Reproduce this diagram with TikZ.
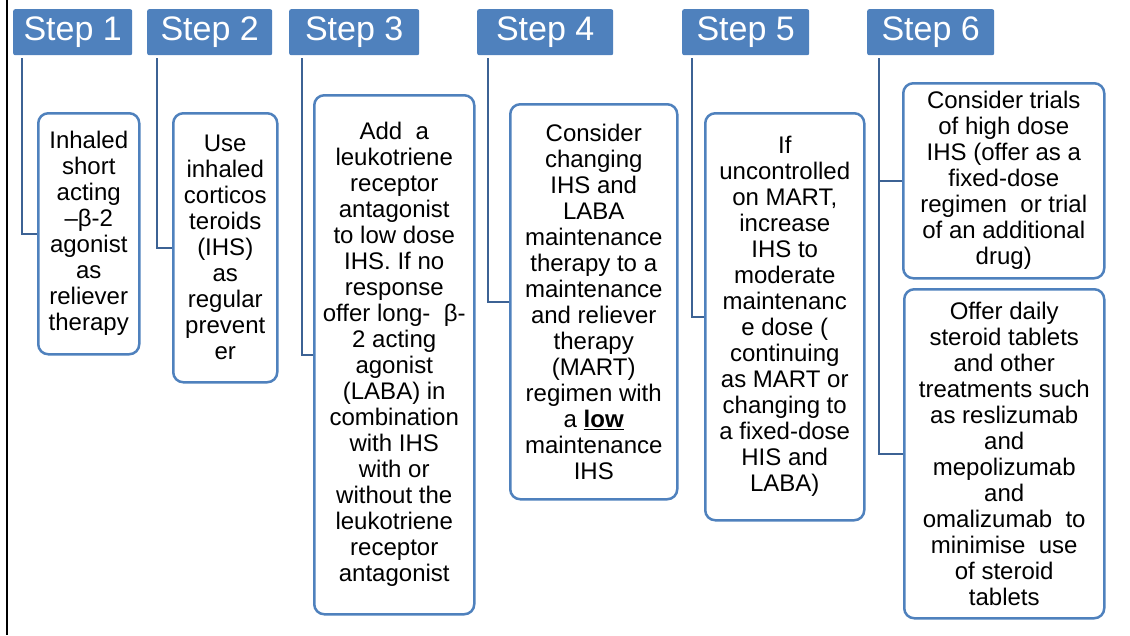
\documentclass[tikz,border=0pt]{standalone}
\usepackage{fontspec}
\setmainfont{Liberation Sans}

\definecolor{stepblue}{RGB}{79,129,189}
\definecolor{linkblue}{RGB}{60,98,148}

\tikzset{
	stephead/.style={anchor=north west,fill=stepblue,rounded corners=2pt,text=white,font=\fontsize{34}{40}\selectfont,inner sep=0pt},
	stepbox/.style={anchor=north west,draw=stepblue,line width=2.5pt,rounded corners=10pt,align=center,font=\fontsize{24}{26}\selectfont,inner sep=0pt},
	stepline/.style={draw=linkblue,line width=2.5pt},
}

\begin{document}
\begin{tikzpicture}[x=1pt,y=-1pt]
					\useasboundingbox (0,0) rectangle (1130,635);
					\draw[line width=2.5pt] (7,0) -- (7,635);

					\def\headtop{9}
					\foreach \i/\x/\w in {1/13/119,2/147/125,3/289/130,4/477/136,5/682/127,6/867/127}
					{
						\node[stephead,minimum width=\w pt,minimum height=46pt] (h\i) at (\x,\headtop) {Step \i};
					}

					\node[stepbox,minimum width=101pt,minimum height=241pt] (b1) at (37,112)
						{Inhaled\\short\\acting\\–β-2\\agonist\\as\\reliever\\therapy};
					\node[stepbox,minimum width=104pt,minimum height=269pt] (b2) at (172,112)
						{Use\\inhaled\\corticos\\teroids\\(IHS)\\as\\regular\\prevent\\er};
					\node[stepbox,minimum width=160pt,minimum height=519pt] (b3) at (313,94)
						{Add\ \ a\\leukotriene\\receptor\\antagonist\\to low dose\\IHS. If no\\response\\offer long-\ \ β-\\2 acting\\agonist\\(LABA) in\\combination\\with IHS\\with or\\without the\\leukotriene\\receptor\\antagonist};
					\node[stepbox,minimum width=167pt,minimum height=395pt] (b4) at (509,103)
						{Consider\\changing\\IHS and\\LABA\\maintenance\\therapy to a\\maintenance\\and reliever\\therapy\\(MART)\\regimen with\\a \underline{\textbf{low}}\\maintenance\\IHS};
					\node[stepbox,minimum width=159pt,minimum height=407pt] (b5) at (704,112)
						{If\\uncontrolled\\on MART,\\increase\\IHS to\\moderate\\maintenanc\\e dose (\\continuing\\as MART or\\changing to\\a fixed-dose\\HIS and\\LABA)};
					\node[stepbox,minimum width=201pt,minimum height=195pt] (b6a) at (902,82)
						{Consider trials\\of high dose\\IHS (offer as a\\fixed-dose\\regimen\ \ or trial\\of an additional\\drug)};
					\node[stepbox,minimum width=200pt,minimum height=329pt] (b6b) at (903,288)
						{Offer daily\\steroid tablets\\and other\\treatments such\\as reslizumab\\and\\mepolizumab\\and\\omalizumab\ \ to\\minimise\ \ use\\of steroid\\tablets};

					\foreach \i/\b/\dx in {1/b1/9,2/b2/10,3/b3/13,4/b4/11,5/b5/10,6/b6a/12,6/b6b/12}
					{
						\draw[stepline] ([xshift=\dx pt,yshift=-3pt]h\i.south west) |- (\b.west);
					}
				\end{tikzpicture}
\end{document}
